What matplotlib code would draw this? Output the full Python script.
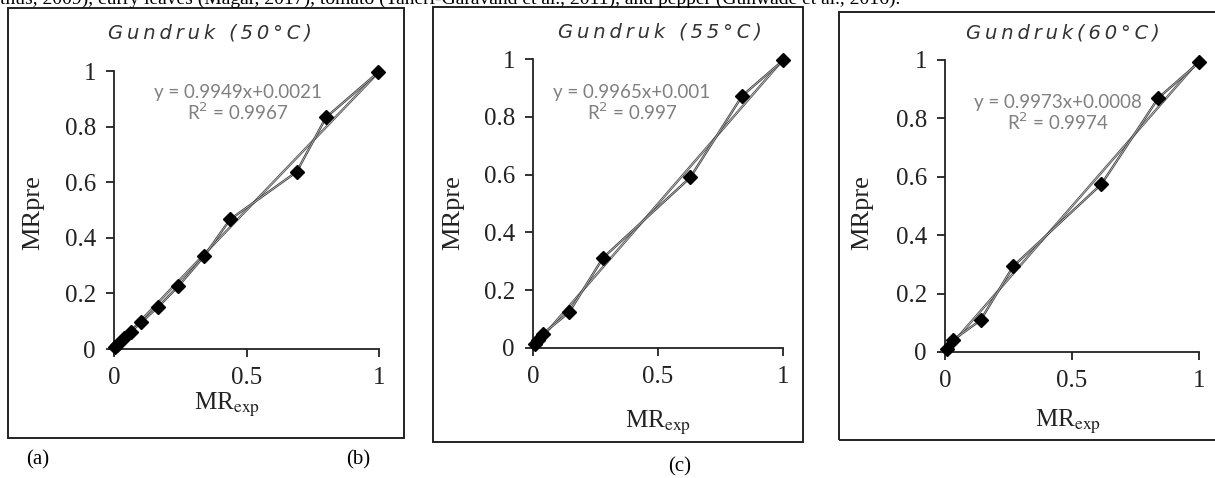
import matplotlib.pyplot as plt
from matplotlib.patches import Rectangle

W, H = 1215, 478

########################## Data ###############################################
MR_exp_50 = [0.003, 0.013, 0.038, 0.063, 0.103, 0.167, 0.242, 0.340, 0.438, 0.689, 0.800, 0.998]
MR_pre_50 = [0.006, 0.014, 0.038, 0.062, 0.096, 0.152, 0.225, 0.334, 0.466, 0.637, 0.833, 0.996]

MR_exp_55 = [0.007, 0.020, 0.040, 0.144, 0.280, 0.629, 0.837, 1.000]
MR_pre_55 = [0.015, 0.029, 0.050, 0.123, 0.312, 0.590, 0.873, 0.995]

MR_exp_60 = [0.009, 0.030, 0.140, 0.269, 0.616, 0.840, 1.000]
MR_pre_60 = [0.011, 0.040, 0.109, 0.294, 0.575, 0.870, 0.992]

slopes = [0.9949, 0.9965, 0.9973]
intercepts = [0.0021, 0.001, 0.0008]
eq_texts = ['y = 0.9949x+0.0021\nR$^2$ = 0.9967',
            'y = 0.9965x+0.001\nR$^2$ = 0.997',
            'y = 0.9973x+0.0008\nR$^2$ = 0.9974']
titles = ['Gundruk (50°C)', 'Gundruk (55°C)', 'Gundruk(60°C)']
x_ticks = [0, 0.5, 1]
x_tick_labels = ['0', '0.5', '1']
y_ticks = [0, 0.2, 0.4, 0.6, 0.8, 1]
y_tick_labels = ['0', '0.2', '0.4', '0.6', '0.8', '1']

########################## Layout (pixels) ####################################
# axes: x0, x1, y0(bottom), y1(top)
axes_px = [(114, 379, 349, 71), (533, 783, 348, 59), (945, 1199, 352, 60)]
boxes_px = [(8, 8, 404, 438), (433, 7, 803, 442), (839, 12, 1230, 440)]
title_px = [(210, 33), (660, 32), (1063, 33)]
eq_px = [(238, 84), (632, 84), (1058, 94)]
ylab_px = [33, 453, 862]
xlab_px = [(227, 405), (658, 423), (1068, 422)]
panel_lbl = [('(a)', 38, 460), ('(b)', 358, 460), ('(c)', 680, 467)]

fig = plt.figure(figsize=(W / 100, H / 100), dpi=100)

def fx(x):
    return x / W

def fy(y):
    return 1 - y / H

serif = 'Liberation Serif'

for (bx0, by0, bx1, by1) in boxes_px:
    fig.patches.append(Rectangle((fx(bx0), fy(by1)), fx(bx1 - bx0), (by1 - by0) / H,
                                 transform=fig.transFigure, fill=False,
                                 edgecolor='#222222', lw=1.4))

data = [(MR_exp_50, MR_pre_50), (MR_exp_55, MR_pre_55), (MR_exp_60, MR_pre_60)]

for i, (x0, x1, y0, y1) in enumerate(axes_px):
    ax = fig.add_axes([fx(x0), fy(y0), fx(x1 - x0), (y0 - y1) / H])
    xs, ys = data[i]
    # linear trendline
    tx = [0, 1]
    ty = [slopes[i] * v + intercepts[i] for v in tx]
    ax.plot(tx, ty, color='#505050', lw=1.7, clip_on=False, zorder=2)
    ax.plot(tx, ty, color='#d0d0d0', lw=0.5, clip_on=False, zorder=2)
    # data line
    ax.plot(xs, ys, color='#404040', lw=1.7, clip_on=False, zorder=3)
    ax.plot(xs, ys, color='#c8c8c8', lw=0.5, clip_on=False, zorder=3)
    ax.plot(xs, ys, linestyle='none', marker='D', ms=7, color='black', clip_on=False, zorder=4)

    ax.set_xlim(0, 1)
    ax.set_ylim(0, 1)
    ax.set_xticks(x_ticks)
    ax.set_xticklabels(x_tick_labels)
    ax.set_yticks(y_ticks)
    ax.set_yticklabels(y_tick_labels)
    for s in ['top', 'right']:
        ax.spines[s].set_visible(False)
    for s in ['left', 'bottom']:
        ax.spines[s].set_linewidth(1.3)
        ax.spines[s].set_color('#222222')
    ax.tick_params(direction='out', length=6, width=1.3, color='#222222',
                   labelsize=18, pad=7)
    ax.tick_params(axis='x', pad=7)
    for lbl in ax.get_xticklabels() + ax.get_yticklabels():
        lbl.set_family(serif)
        lbl.set_color('#222222')
    ax.patch.set_alpha(0)

    tx_, ty_ = title_px[i]
    fig.text(fx(tx_), fy(ty_), '\u2009'.join(titles[i]), family='DejaVu Sans', style='italic',
             fontsize=14, color='#333333', ha='center', va='center')
    ex, ey = eq_px[i]
    fig.text(fx(ex), fy(ey), eq_texts[i], family='Lato', fontsize=13.5,
             color='#808080', ha='center', va='top', linespacing=1.05)
    fig.text(fx(ylab_px[i]), fy(213), 'MRpre', family=serif, fontsize=19,
             rotation=90, ha='center', va='center', color='#222222')
    xx, xy = xlab_px[i]
    fig.text(fx(xx), fy(xy), 'MR$_{\\mathrm{exp}}$', family=serif, fontsize=18,
             ha='center', va='center', math_fontfamily='stix', color='#222222')

for t, x, y in panel_lbl:
    fig.text(fx(x), fy(y), t, family=serif, fontsize=15, ha='center', va='center')

fig.text(0, fy(4), 'thus, 2009), curry leaves (Magar, 2017), tomato (Taheri-Garavand et al., 2011), and pepper (Gunwade et al., 2016).',
         family=serif, fontsize=14, ha='left', va='baseline')

fig.savefig('out.png', dpi=100)
